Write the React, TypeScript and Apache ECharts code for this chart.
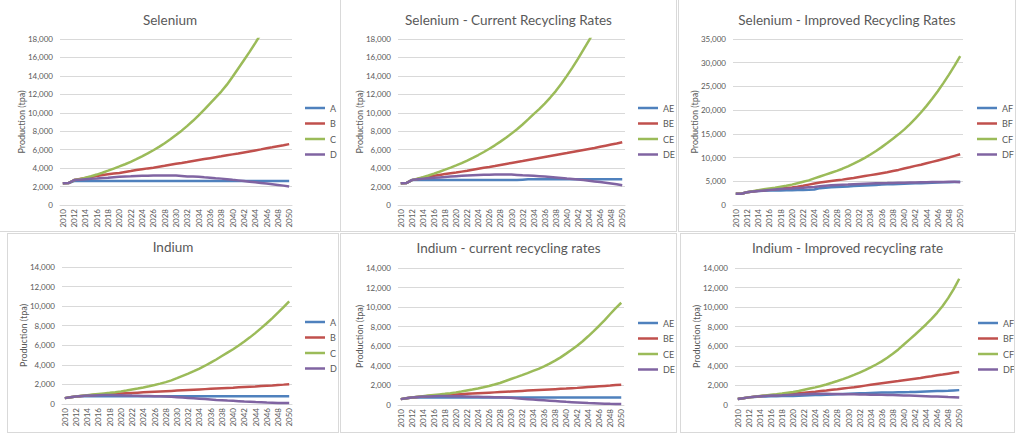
import React, { useEffect, useRef } from "react";
import * as echarts from "echarts";

const YEARS = [
  "2010","2011","2012","2013","2014","2015","2016","2017","2018","2019",
  "2020","2021","2022","2023","2024","2025","2026","2027","2028","2029",
  "2030","2031","2032","2033","2034","2035","2036","2037","2038","2039",
  "2040","2041","2042","2043","2044","2045","2046","2047","2048","2049","2050",
];

// Selenium
const SE_A = [2350,2380,2600,2600,2600,2600,2600,2600,2600,2600,2600,2600,2600,2600,2600,2600,2600,2600,2600,2600,2600,2600,2600,2600,2600,2600,2600,2600,2600,2600,2600,2600,2600,2600,2600,2600,2600,2600,2600,2600,2600];
const SE_B = [2350,2380,2700,2820,2930,3040,3140,3250,3340,3420,3480,3580,3680,3790,3880,3970,4050,4150,4250,4370,4470,4560,4660,4770,4880,4980,5080,5180,5280,5390,5490,5590,5700,5810,5920,6030,6150,6260,6380,6480,6600];
const SE_C = [2350,2380,2700,2800,2950,3120,3300,3500,3720,3950,4180,4420,4680,4970,5280,5600,5940,6300,6700,7120,7580,8060,8580,9130,9720,10340,11000,11650,12300,13050,13900,14800,15700,16600,17550,18550,19600,20700,21900,23200,24600];
const SE_D = [2350,2380,2700,2750,2800,2850,2880,2920,2960,3020,3060,3090,3110,3140,3170,3180,3190,3200,3200,3200,3190,3150,3100,3080,3060,3000,2950,2900,2860,2800,2730,2670,2600,2530,2460,2390,2320,2250,2180,2100,2000];

// Selenium - current recycling rates
const SE_AE = [2350,2380,2700,2700,2700,2700,2700,2700,2700,2700,2700,2700,2700,2700,2700,2700,2700,2700,2700,2700,2700,2700,2740,2780,2780,2780,2780,2780,2780,2780,2780,2780,2780,2780,2780,2780,2780,2780,2780,2780,2780];
const SE_BE = [2350,2380,2700,2830,2950,3060,3160,3260,3360,3440,3520,3620,3720,3830,3940,4040,4130,4230,4340,4450,4560,4660,4760,4870,4980,5090,5200,5310,5420,5530,5640,5750,5860,5970,6080,6190,6310,6430,6550,6670,6800];
const SE_CE = [2350,2380,2700,2850,3020,3200,3400,3610,3830,4060,4300,4550,4820,5110,5420,5750,6100,6470,6870,7290,7740,8220,8730,9280,9860,10400,11000,11650,12350,13150,14000,14900,15850,16850,17850,18900,20000,21200,22450,23800,25200];
const SE_DE = [2350,2380,2700,2780,2850,2900,2950,2990,3030,3080,3130,3160,3190,3220,3250,3270,3290,3300,3310,3310,3300,3260,3220,3200,3180,3130,3080,3030,2980,2930,2870,2820,2760,2700,2630,2560,2490,2420,2340,2250,2150];

// Selenium - improved recycling rates
const SE_AF = [2350,2380,2700,2850,2950,3000,3050,3060,3080,3100,3120,3150,3170,3200,3250,3550,3650,3750,3800,3850,3920,4000,4050,4100,4170,4230,4300,4350,4400,4450,4500,4530,4560,4600,4650,4700,4740,4780,4820,4850,4880];
const SE_BF = [2350,2380,2700,2850,3000,3120,3250,3350,3450,3560,3680,3850,4050,4300,4550,4750,4900,5050,5200,5350,5550,5700,5900,6100,6300,6500,6700,6900,7150,7400,7700,7950,8250,8500,8800,9100,9400,9700,10000,10350,10700];
const SE_CF = [2350,2380,2700,2900,3100,3300,3500,3650,3850,4050,4300,4600,4900,5200,5600,6000,6400,6800,7200,7650,8150,8700,9300,9950,10650,11400,12200,13050,13950,14900,15900,17000,18200,19500,20900,22400,24000,25700,27500,29400,31400];
const SE_DF = [2350,2380,2700,2850,2950,3050,3150,3250,3350,3450,3500,3600,3650,3750,3800,3950,4050,4150,4200,4250,4300,4400,4450,4500,4550,4580,4600,4620,4650,4680,4700,4730,4760,4780,4800,4830,4850,4870,4890,4900,4800];

// Indium
const IN_A = [600,680,760,790,780,780,780,780,780,780,780,780,780,780,780,780,780,780,780,780,780,780,780,780,780,780,780,780,780,780,780,780,780,780,780,780,780,780,780,780,780];
const IN_B = [600,680,760,820,870,910,950,980,1010,1040,1070,1100,1130,1160,1190,1220,1250,1280,1310,1340,1370,1400,1430,1460,1490,1520,1550,1580,1610,1640,1670,1710,1740,1770,1800,1840,1870,1900,1940,1980,2030];
const IN_C = [600,680,760,840,900,960,1020,1080,1140,1210,1290,1380,1480,1580,1690,1810,1940,2080,2240,2420,2640,2870,3100,3350,3620,3910,4220,4550,4900,5250,5600,5980,6380,6810,7270,7750,8250,8780,9330,9900,10480];
const IN_D = [600,680,760,820,860,880,900,910,910,900,890,880,860,850,830,820,800,790,760,730,700,660,620,580,540,500,460,420,390,350,320,290,260,240,210,190,160,140,110,100,100];

// Indium - current recycling rates
const IN_AE = [600,680,760,790,760,760,760,760,760,760,760,760,760,760,760,760,760,760,760,760,760,760,760,760,760,760,760,760,760,760,760,760,760,760,760,760,760,760,760,760,760];
const IN_BE = [600,680,760,820,870,910,950,985,1020,1050,1080,1110,1140,1170,1200,1230,1260,1290,1320,1350,1380,1410,1440,1470,1500,1530,1560,1590,1620,1650,1680,1720,1750,1790,1830,1870,1910,1950,1990,2040,2080];
const IN_CE = [600,680,760,840,900,960,1020,1080,1140,1210,1290,1380,1480,1580,1690,1810,1940,2090,2250,2450,2660,2850,3050,3260,3480,3700,3950,4230,4530,4870,5250,5640,6060,6520,7020,7550,8100,8680,9300,9900,10450];
const IN_DE = [600,680,760,820,860,880,900,910,910,905,895,885,870,855,840,825,810,795,780,760,730,690,640,600,560,520,480,440,400,360,320,290,260,230,200,180,160,140,120,110,100];

// Indium - improved recycling rate
const IN_AF = [620,700,780,830,860,880,890,900,910,920,930,950,970,990,1010,1030,1050,1080,1100,1130,1150,1170,1190,1210,1230,1250,1270,1280,1290,1300,1310,1320,1340,1360,1380,1400,1420,1440,1460,1490,1520];
const IN_BF = [620,700,780,850,900,950,1000,1030,1060,1100,1150,1200,1250,1300,1350,1420,1480,1550,1610,1680,1750,1820,1900,1980,2060,2140,2220,2300,2380,2450,2530,2610,2690,2770,2860,2940,3030,3110,3200,3290,3380];
const IN_CF = [620,700,780,850,920,980,1040,1100,1170,1250,1330,1440,1560,1680,1800,1950,2100,2270,2450,2640,2850,3070,3300,3560,3840,4140,4460,4830,5230,5680,6180,6680,7180,7700,8230,8800,9420,10120,10920,11850,12900];
const IN_DF = [620,700,780,850,900,930,960,980,1000,1030,1050,1080,1100,1120,1140,1140,1140,1130,1120,1110,1100,1090,1080,1070,1060,1050,1040,1030,1020,1000,980,960,940,920,900,880,860,840,810,790,760];

const COLORS = ["#4F81BD", "#C0504D", "#9BBB59", "#8064A2"];
const FONT = "Lato, 'Open Sans', sans-serif";
const TEXT = "#595959";
const GRID = "#d9d9d9";

type Box = { left: number; top: number; w: number; h: number };
type Panel = {
  title: string;
  names: string[];
  data: number[][];
  max: number;
  interval: number;
  box: Box;
  chartH: number;
  plot: { l: number; r: number; t: number; b: number };
  legend: { x: number; y: number };
  titleY: number;
};

const PANELS: Panel[] = [
  {
    title: "Selenium", names: ["A", "B", "C", "D"], data: [SE_A, SE_B, SE_C, SE_D],
    max: 18000, interval: 2000,
    box: { left: -1, top: -1, w: 342, h: 233 }, chartH: 262,
    plot: { l: 60, r: 292, t: 39, b: 205 }, legend: { x: 305, y: 102 }, titleY: 21,
  },
  {
    title: "Selenium - Current Recycling Rates", names: ["AE", "BE", "CE", "DE"], data: [SE_AE, SE_BE, SE_CE, SE_DE],
    max: 18000, interval: 2000,
    box: { left: 340, top: -1, w: 337, h: 233 }, chartH: 262,
    plot: { l: 398, r: 625, t: 39, b: 205 }, legend: { x: 638, y: 102 }, titleY: 21,
  },
  {
    title: "Selenium - Improved Recycling Rates", names: ["AF", "BF", "CF", "DF"], data: [SE_AF, SE_BF, SE_CF, SE_DF],
    max: 35000, interval: 5000,
    box: { left: 678, top: -1, w: 338, h: 233 }, chartH: 262,
    plot: { l: 733, r: 963, t: 39, b: 205 }, legend: { x: 977, y: 102 }, titleY: 21,
  },
  {
    title: "Indium", names: ["A", "B", "C", "D"], data: [IN_A, IN_B, IN_C, IN_D],
    max: 14000, interval: 2000,
    box: { left: 7, top: 233, w: 332, h: 200 }, chartH: 200,
    plot: { l: 62, r: 292, t: 267, b: 404 }, legend: { x: 305, y: 316 }, titleY: 248,
  },
  {
    title: "Indium - current recycling rates", names: ["AE", "BE", "CE", "DE"], data: [IN_AE, IN_BE, IN_CE, IN_DE],
    max: 14000, interval: 2000,
    box: { left: 340, top: 233, w: 337, h: 200 }, chartH: 200,
    plot: { l: 398, r: 624, t: 268, b: 405 }, legend: { x: 638, y: 317 }, titleY: 249,
  },
  {
    title: "Indium - Improved recycling rate", names: ["AF", "BF", "CF", "DF"], data: [IN_AF, IN_BF, IN_CF, IN_DF],
    max: 14000, interval: 2000,
    box: { left: 680, top: 233, w: 335, h: 200 }, chartH: 200,
    plot: { l: 735, r: 962, t: 268, b: 405 }, legend: { x: 978, y: 317 }, titleY: 249,
  },
];

function fmt(v: number): string {
  return String(Math.round(v)).replace(/\B(?=(\d{3})+(?!\d))/g, ",");
}

function ChartPanel({ p }: { p: Panel }) {
  const ref = useRef<HTMLDivElement | null>(null);
  useEffect(() => {
    if (!ref.current) return;
    const chart = echarts.init(ref.current, null, { renderer: "svg" });
    const { box, plot } = p;
    chart.setOption({
      animation: false,
      title: {
        text: p.title,
        left: "center",
        top: p.titleY - box.top - 8,
        padding: 0,
        textStyle: { fontFamily: FONT, fontSize: 13.5, fontWeight: "normal", color: TEXT },
      },
      legend: {
        orient: "vertical",
        left: p.legend.x - box.left,
        top: p.legend.y - box.top,
        padding: 0,
        icon: "rect",
        itemWidth: 20,
        itemHeight: 2.5,
        itemGap: 3.5,
        data: p.names,
        textStyle: { fontFamily: FONT, fontSize: 9, color: TEXT, lineHeight: 12 },
      },
      grid: {
        left: plot.l - box.left,
        top: plot.t - box.top,
        width: plot.r - plot.l,
        height: plot.b - plot.t,
        containLabel: false,
      },
      xAxis: {
        type: "category",
        data: YEARS,
        boundaryGap: true,
        axisLine: { lineStyle: { color: GRID, width: 1 } },
        axisTick: { show: false },
        axisLabel: {
          rotate: 90,
          interval: 1,
          margin: 4,
          fontFamily: FONT,
          fontSize: 8,
          color: TEXT,
        },
      },
      yAxis: {
        type: "value",
        min: 0,
        max: p.max,
        interval: p.interval,
        axisLine: { show: false },
        axisTick: { show: false },
        splitLine: { lineStyle: { color: GRID, width: 1 } },
        axisLabel: { fontFamily: FONT, fontSize: 8, color: TEXT, margin: 7, formatter: (v: number) => fmt(v) },
        name: "Production (tpa)",
        nameLocation: "middle",
        nameRotate: 90,
        nameGap: 34,
        nameMoveOverlap: false,
        nameTextStyle: { fontFamily: FONT, fontSize: 9, color: TEXT },
      },
      series: p.names.map((n, i) => ({
        name: n,
        type: "line",
        data: p.data[i],
        symbol: "none",
        showSymbol: false,
        clip: true,
        lineStyle: { width: 2.5, color: COLORS[i] },
        itemStyle: { color: COLORS[i] },
      })),
    });
    return () => chart.dispose();
  }, []);
  const { box } = p;
  return (
    <div
      style={{
        position: "absolute",
        left: box.left,
        top: box.top,
        width: box.w,
        height: box.h,
        overflow: "hidden",
        background: "#fff",
      }}
    >
      <div ref={ref} style={{ position: "absolute", left: 0, top: 0, width: box.w, height: p.chartH }} />
      <div
        style={{
          position: "absolute",
          left: 0,
          top: 0,
          width: box.w,
          height: box.h,
          boxSizing: "border-box",
          border: "1px solid #d9d9d9",
          pointerEvents: "none",
        }}
      />
    </div>
  );
}

export default function App() {
  return (
    <div
      style={{
        position: "fixed",
        left: 0,
        top: 0,
        width: 1024,
        height: 440,
        background: "#fff",
        overflow: "hidden",
      }}
    >
      {PANELS.map((p, i) => (
        <ChartPanel key={i} p={p} />
      ))}
    </div>
  );
}
